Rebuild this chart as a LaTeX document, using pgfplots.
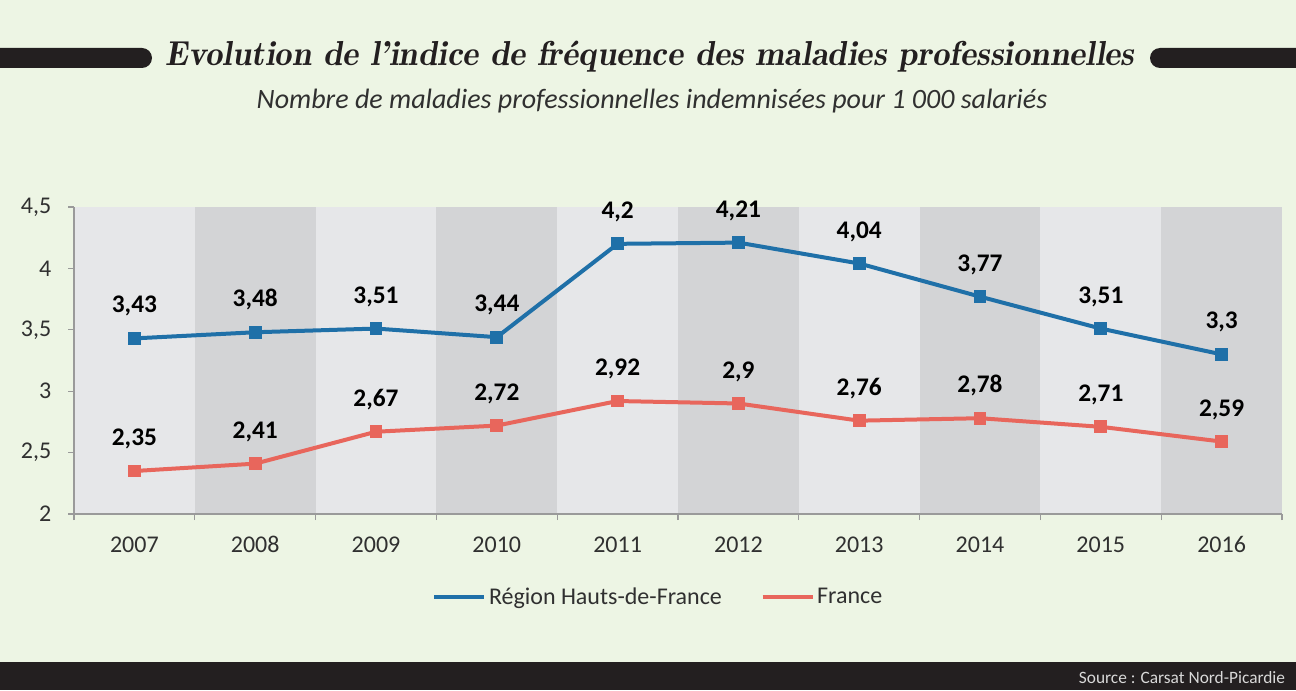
\documentclass[border=0pt]{standalone}
\usepackage{pgfplots}
\pgfplotsset{compat=1.18}
\usepackage{fontspec}
\setmainfont{Carlito}
\definecolor{bg}{HTML}{EDF5E4}
\definecolor{lband}{HTML}{E6E7E9}
\definecolor{dband}{HTML}{D3D4D6}
\definecolor{blueL}{HTML}{1F70A8}
\definecolor{redL}{HTML}{E8665C}
\definecolor{barK}{HTML}{231F20}
\definecolor{axgray}{HTML}{9A9A9A}
\definecolor{txt}{HTML}{303030}
\begin{document}
\begin{tikzpicture}
\useasboundingbox (0,0) rectangle (972pt,517.5pt);
\fill[bg] (0,0) rectangle (972pt,517.5pt);
\fill[barK] (0,0) rectangle (972pt,21pt);
\node[anchor=east, text=white!85!black, font=\fontsize{13}{15}\selectfont, inner sep=0] at (964pt,9.5pt) {Source : Carsat Nord-Picardie};
\fill[barK, rounded corners=7.5pt] (-20pt,466.5pt) rectangle (114pt,481.5pt);
\fill[barK, rounded corners=7.5pt] (862.5pt,466.5pt) rectangle (1000pt,481.5pt);
\node[font=\fontfamily{lmr}\fontsize{26}{30}\selectfont\bfseries\itshape, text=barK, inner sep=0] at (487.5pt,475pt) {Evolution de l'indice de fréquence des maladies professionnelles};
\node[font=\fontsize{21}{24}\selectfont\itshape, text=txt, inner sep=0] at (489pt,442pt) {Nombre de maladies professionnelles indemnisées pour 1 000 salariés};
\begin{axis}[
  at={(55.5pt,132pt)}, anchor=south west,
  scale only axis, width=906pt, height=230.25pt,
  xmin=-0.5, xmax=9.5, ymin=2, ymax=4.5,
  axis background/.style={fill=lband},
  axis x line*=bottom, axis y line*=left,
  axis line style={axgray, line width=0.8pt},
  tick align=outside,
  major tick length=4.5pt,
  tick style={axgray, line width=0.8pt},
  xtick={-0.5,0.5,...,9.5},
  xticklabels={2007,2008,2009,2010,2011,2012,2013,2014,2015,2016,{}},
  xticklabel style={anchor=north, text height=12.5pt, text depth=0pt, xshift=45.3pt, yshift=-8pt, font=\fontsize{18}{20}\selectfont, text=txt},
  ytick={2,2.5,...,4.5},
  yticklabel style={xshift=-9pt, font=\fontsize{18}{20}\selectfont, text=txt, /pgf/number format/use comma},
  /pgf/number format/assume math mode=true,
  axis on top,
  clip=false,
  legend style={at={(0.484,-0.27)}, anchor=center, draw=none, fill=none, legend columns=2, font=\fontsize{18}{20}\selectfont, text=txt, /tikz/every even column/.append style={column sep=27pt}},
  legend cell align=left,
  legend image code/.code={\draw[#1] (0pt,0pt) -- (37.5pt,0pt);},
  every axis plot/.append style={line width=3pt, mark=square*, mark size=3.3pt},
  nodes near coords,
  every node near coord/.append style={font=\bfseries\fontsize{19}{20}\selectfont, text=black, anchor=south, inner sep=0, yshift=15pt, /pgf/number format/use comma, /pgf/number format/assume math mode=true},
]
\foreach \a in {0.5,2.5,4.5,6.5,8.5} {
  \edef\tmp{\noexpand\fill[dband] (axis cs:\a,2) rectangle (axis cs:\a+1,4.5);}
  \tmp
}
\addplot[color=blueL, mark options={solid}] coordinates {
(0,3.43) (1,3.48) (2,3.51) (3,3.44) (4,4.2) (5,4.21) (6,4.04) (7,3.77) (8,3.51) (9,3.3)};
\addlegendentry{Région Hauts-de-France}
\addplot[color=redL, mark options={solid}] coordinates {
(0,2.35) (1,2.41) (2,2.67) (3,2.72) (4,2.92) (5,2.9) (6,2.76) (7,2.78) (8,2.71) (9,2.59)};
\addlegendentry{France}
\end{axis}
\end{tikzpicture}
\end{document}
